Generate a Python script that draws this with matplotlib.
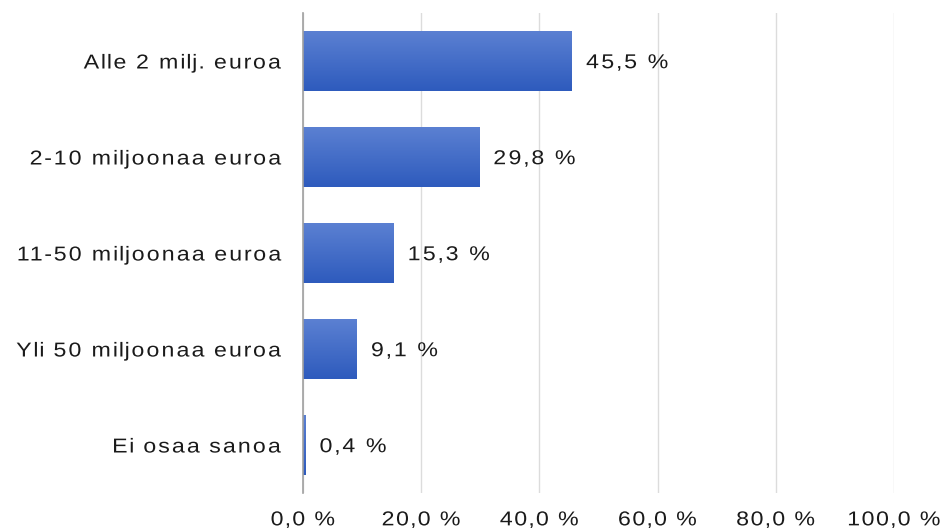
import matplotlib
matplotlib.use("Agg")
import matplotlib.pyplot as plt
import numpy as np
from matplotlib.colors import LinearSegmentedColormap
from matplotlib.patheffects import AbstractPathEffect
from matplotlib.path import Path

categories = ["Alle 2 milj. euroa", "2-10 miljoonaa euroa", "11-50 miljoonaa euroa",
              "Yli 50 miljoonaa euroa", "Ei osaa sanoa"]
values = [45.5, 29.8, 15.3, 9.1, 0.4]
value_labels = ["45,5 %", "29,8 %", "15,3 %", "9,1 %", "0,4 %"]
xticks = [0, 20, 40, 60, 80, 100]
xtick_labels = ["0,0 %", "20,0 %", "40,0 %", "60,0 %", "80,0 %", "100,0 %"]

DPI = 100
plt.rcParams['font.family'] = ['Liberation Sans', 'DejaVu Sans']


class Spread(AbstractPathEffect):
    """Widen glyph shapes by sg and glyph positions by sp about an anchor."""

    def __init__(self, sg, sp, anchor="left"):
        super().__init__()
        self.sg = sg
        self.sp = sp
        self.anchor = anchor

    def draw_path(self, renderer, gc, tpath, affine, rgbFace=None):
        verts = np.array(tpath.vertices, dtype=float)
        codes = tpath.codes
        if codes is None or len(verts) == 0:
            renderer.draw_path(gc, tpath, affine, rgbFace)
            return
        real = (codes != Path.CLOSEPOLY) & (codes != Path.STOP)
        starts = list(np.where(codes == Path.MOVETO)[0]) + [len(codes)]
        contours = []
        for a, b in zip(starts[:-1], starts[1:]):
            m = real[a:b]
            xs = verts[a:b, 0][m]
            if len(xs) == 0:
                continue
            contours.append([a, b, xs.min(), xs.max()])
        if not contours:
            renderer.draw_path(gc, tpath, affine, rgbFace)
            return
        groups = []
        for c in contours:
            if groups and c[2] < groups[-1][3] - 1e-6:
                g = groups[-1]
                g[1] = c[1]
                g[2] = min(g[2], c[2])
                g[3] = max(g[3], c[3])
            else:
                groups.append(list(c))
        x0 = min(g[2] for g in groups)
        x1 = max(g[3] for g in groups)
        if self.anchor == "right":
            ox = x1
        elif self.anchor == "center":
            ox = (x0 + x1) / 2
        else:
            ox = 0.0
        new = verts.copy()
        for a, b, gx0, gx1 in groups:
            gcx = (gx0 + gx1) / 2
            new[a:b, 0] = (verts[a:b, 0] - gcx) * self.sg + ox + (gcx - ox) * self.sp
        renderer.draw_path(gc, Path(new, codes), affine, rgbFace)


fig = plt.figure(figsize=(9.41, 5.31), dpi=DPI)
ax = fig.add_axes([303/941, 38/531, 591/941, 480/531])

y = np.arange(len(categories))
bar_h = 0.62
bars = ax.barh(y, values, height=bar_h, color="#3f69c8", zorder=2, edgecolor="none")

cmap = LinearSegmentedColormap.from_list("g", ["#5b80d2", "#2e5bbd"])
grad = np.linspace(0, 1, 64).reshape(-1, 1)
for rect in bars:
    x0, y0 = rect.get_x(), rect.get_y()
    w, h = rect.get_width(), rect.get_height()
    im = ax.imshow(grad, cmap=cmap, aspect="auto", extent=(x0, x0 + w, y0 + h, y0),
                   origin="upper", zorder=3, interpolation="bilinear")
    im.set_clip_path(rect)

ax.set_xlim(0, 100)
ax.set_ylim(len(categories) - 0.5, -0.5)

TXT = "#1a1a1a"
FS = 14.5
cap = 0.716 * FS * DPI / 72
SG = 1.15

# value labels
for yi, v, lab in zip(y, values, value_labels):
    ax.annotate(lab, xy=(v, yi), xycoords="data", xytext=(13, -cap / 2),
                textcoords="offset pixels", ha="left", va="baseline",
                fontsize=FS, color=TXT, zorder=6,
                path_effects=[Spread(SG, 1.36, "left")])

ax.set_yticks(y)
ax.set_yticklabels(categories, fontsize=FS, color=TXT)
for t in ax.get_yticklabels():
    t.set_path_effects([Spread(SG, 1.34, "right")])
ax.set_xticks(xticks)
ax.set_xticklabels(xtick_labels, fontsize=FS, color=TXT)
for t in ax.get_xticklabels():
    t.set_path_effects([Spread(SG, 1.29, "center")])
ax.tick_params(axis="both", length=0)
ax.tick_params(axis="y", pad=15)
ax.tick_params(axis="x", pad=12.5)
ax.grid(axis="x", color="#dcdcdc", linewidth=1, zorder=0)
for s in ["top", "right", "bottom"]:
    ax.spines[s].set_visible(False)
ax.spines["left"].set_color("#a0a0a0")
ax.spines["left"].set_linewidth(1.2)
ax.spines["left"].set_zorder(5)
ax.set_axisbelow(True)

fig.savefig("out.png", dpi=DPI)
